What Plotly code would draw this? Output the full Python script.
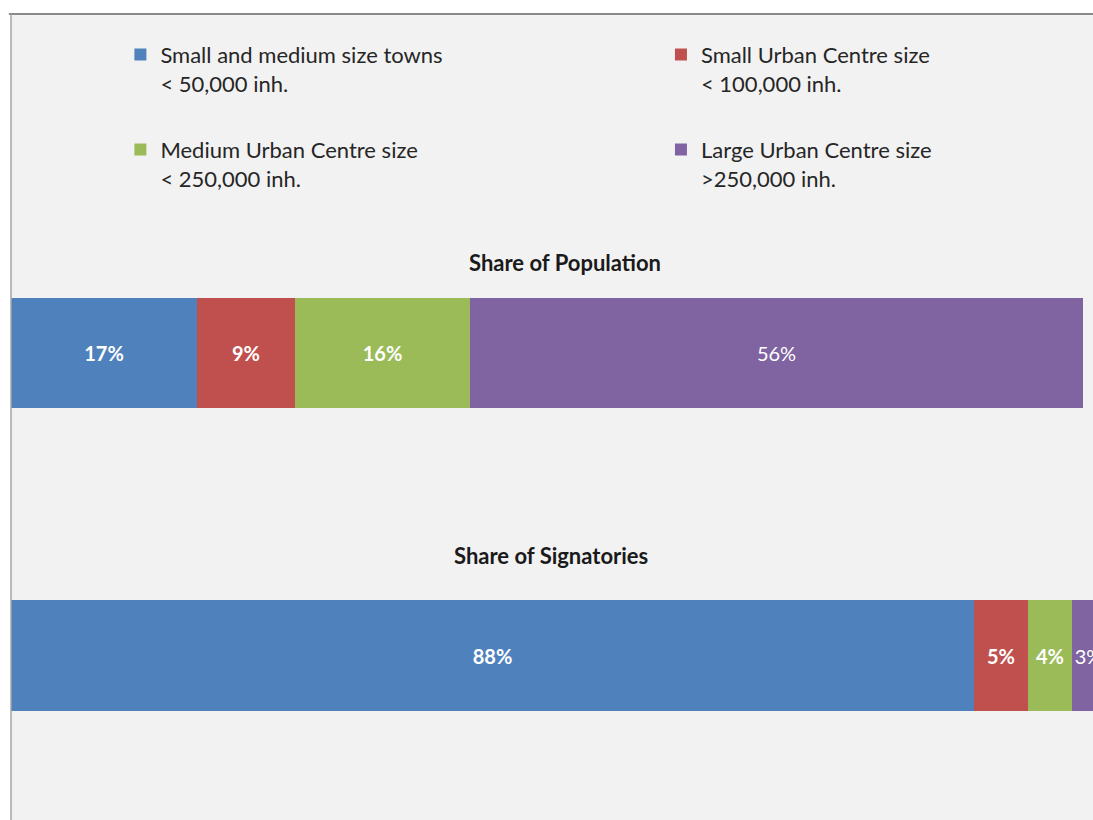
import plotly.graph_objects as go

# Bar rows (top to bottom) and the size-class series stacked along each row
rows = ["Share of Population", "Share of Signatories"]
row_pos = [1, 0]

classes = [
    "Small and medium size towns<br>< 50,000 inh.",
    "Small Urban Centre size<br>< 100,000 inh.",
    "Medium Urban Centre size<br>< 250,000 inh.",
    "Large Urban Centre size<br>>250,000 inh.",
]
small_towns = [17, 88]
small_urban = [9, 5]
medium_urban = [16, 4]
large_urban = [56, 3]

colors = ["#4f81bd", "#c0504d", "#9bbb59", "#8064a2"]
bold_labels = [True, True, True, False]

FONT = "Lato"

# One legend box per class, laid out as a 2 x 2 grid
legend_ids = ["legend", "legend2", "legend3", "legend4"]
legend_x = [0.1011, 0.6007, 0.1011, 0.6007]
legend_y = [0.9757, 0.9757, 0.8578, 0.8578]

fig = go.Figure()
for name, vals, col, bold, lg in zip(classes, [small_towns, small_urban, medium_urban, large_urban],
                                     colors, bold_labels, legend_ids):
    labels = [f"<b>{v}%</b>" if bold else f"{v}%" for v in vals]
    fig.add_trace(go.Bar(
        y=row_pos, x=vals, orientation="h", name=name,
        marker=dict(color=col, line=dict(width=0)),
        width=0.364,
        text=labels, textposition="inside", insidetextanchor="middle",
        textangle=0,
        textfont=dict(family=FONT, size=20, color="#ffffff"),
        constraintext="none",
        legend=lg,
    ))

legend_style = dict(
    orientation="v", xref="paper", yref="paper", xanchor="left", yanchor="top",
    valign="top",
    font=dict(family=FONT, size=22, color="#262626"),
    bgcolor="rgba(0,0,0,0)", borderwidth=0,
)
legends = {lg: dict(x=lx, y=ly, **legend_style)
           for lg, lx, ly in zip(legend_ids, legend_x, legend_y)}

fig.update_layout(
    width=1093, height=820,
    margin=dict(l=11, r=0, t=14, b=0, pad=0),
    paper_bgcolor="#ffffff", plot_bgcolor="#f2f2f2",
    barmode="stack", bargap=0,
    showlegend=True,
    xaxis=dict(range=[0, 98.9], visible=False, fixedrange=True),
    yaxis=dict(range=[-0.5438, 2.1207], visible=False, fixedrange=True),
    font=dict(family=FONT),
    **legends,
)

# Row titles above each bar
for label, y, dy, xp in zip(rows, row_pos, [91, 100], [0.512, 0.499]):
    fig.add_annotation(
        text=f"<b>{label}</b>", x=xp, xref="paper", y=y, yref="y", yshift=dy,
        showarrow=False, font=dict(family=FONT, size=22, color="#1a1a1a"),
        xanchor="center", yanchor="middle",
    )

# Chart frame: top and left edges
fig.add_shape(type="line", xref="paper", yref="paper", x0=-0.002, x1=1.02, y0=1, y1=1,
              line=dict(color="#8a8a8a", width=2))
fig.add_shape(type="line", xref="paper", yref="paper", x0=0, x1=0, y0=-0.02, y1=1,
              line=dict(color="#a6a6a6", width=1.5))

fig.write_html("out.html")
